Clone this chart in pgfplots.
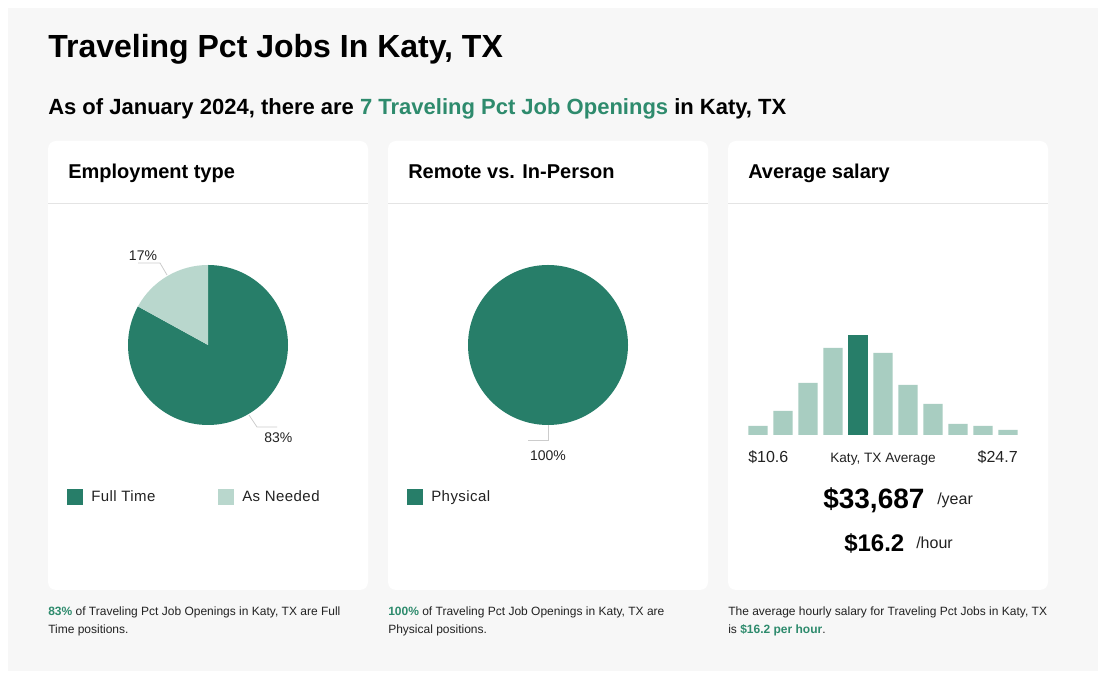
\documentclass[border=0pt]{standalone}
\usepackage{fontspec}
\setmainfont{Liberation Sans}
\usepackage{pgfplots}
\pgfplotsset{compat=1.18}
\definecolor{dkgreen}{HTML}{277E69}
\definecolor{ltpie}{HTML}{B9D7CD}
\definecolor{ltbar}{HTML}{A8CDC1}
\definecolor{txtgreen}{HTML}{2E8B6D}
\definecolor{bggray}{HTML}{F7F7F7}
\definecolor{divgray}{HTML}{E4E4E4}
\definecolor{leader}{HTML}{CCCCCC}
\definecolor{txt}{HTML}{222222}
\newcommand{\fs}[1]{\fontsize{#1}{#1}\selectfont}
\begin{document}
\begin{tikzpicture}[x=0.75pt,y=0.75pt]
\fill[white] (0,0) rectangle (1110,695);
\fill[bggray] (8,24) rectangle (1098,687);
% titles
\node[anchor=base west,inner sep=0pt] at (48,637) {\fs{24pt}\bfseries Traveling Pct Jobs In Katy, TX};
\node[anchor=base west,inner sep=0pt] at (48,580) {\fs{16.5pt}\bfseries As of January 2024, there are \textcolor{txtgreen}{7 Traveling Pct Job Openings} in Katy, TX};
% cards
\foreach \cx in {48,388,728}{
  \fill[white,rounded corners=6pt] (\cx,105) rectangle (\cx+320,554);
  \draw[divgray,line width=0.75pt] (\cx,491) -- (\cx+320,491);
}
\node[anchor=base west,inner sep=0pt] at (68,516) {\fs{15pt}\bfseries Employment type};
\node[anchor=base west,inner sep=0pt] at (408,516) {\fs{15pt}\bfseries Remote vs. In-Person};
\node[anchor=base west,inner sep=0pt] at (748,516) {\fs{15pt}\bfseries Average salary};

% ---- Pie 1: Full Time 83, As Needed 17
\def\ftval{83}
\def\anval{17}
\coordinate (p1) at (208,350);
\begin{axis}[at={(p1)},anchor=center,scale only axis,width=120pt,height=120pt,
  hide axis,clip=false,xmin=-1,xmax=1,ymin=-1,ymax=1]
  \fill[dkgreen] (axis cs:0,0) -- (axis cs:0,1) arc[start angle=90,end angle={90-3.6*\ftval},radius=60pt] -- cycle;
  \fill[ltpie] (axis cs:0,0) -- (axis cs:0,1) arc[start angle=90,end angle={90+3.6*\anval},radius=60pt] -- cycle;
\end{axis}
\draw[leader,line width=0.6pt] (138,432) -- (160,432) -- (167,420);
\draw[leader,line width=0.6pt] (249,280) -- (257,268) -- (277,268);
\node[anchor=base,inner sep=0pt,text=txt] at (143,434) {\fs{10.5pt}17\%};
\node[anchor=base west,inner sep=0pt,text=txt] at (264,252) {\fs{10.5pt}83\%};
\fill[dkgreen] (67,190) rectangle (83,206);
\node[anchor=base west,inner sep=0pt,text=txt] at (91,193) {\fs{11.25pt}\addfontfeature{LetterSpace=3}Full Time};
\fill[ltpie] (218,190) rectangle (234,206);
\node[anchor=base west,inner sep=0pt,text=txt] at (242,193) {\fs{11.25pt}\addfontfeature{LetterSpace=3}As Needed};

% ---- Pie 2: Physical 100
\def\phval{100}
\coordinate (p2) at (548,350);
\begin{axis}[at={(p2)},anchor=center,scale only axis,width=120pt,height=120pt,
  hide axis,clip=false,xmin=-1,xmax=1,ymin=-1,ymax=1]
  \fill[dkgreen] (axis cs:0,0) circle[radius={0.6pt*\phval}];
\end{axis}
\draw[leader,line width=0.6pt] (548,270) -- (548,255) -- (528,255);
\node[anchor=base,inner sep=0pt,text=txt] at (548,234) {\fs{10.5pt}100\%};
\fill[dkgreen] (407,190) rectangle (423,206);
\node[anchor=base west,inner sep=0pt,text=txt] at (431,193) {\fs{11.25pt}\addfontfeature{LetterSpace=3}Physical};

% ---- Histogram
\coordinate (h) at (745.5,260);
\begin{axis}[at={(h)},anchor=south west,scale only axis,width=206.25pt,height=75pt,
  hide axis,xmin=0.5,xmax=11.5,ymin=0,ymax=100,clip=false]
  \addplot[ybar,bar width=14.55pt,bar shift=0pt,fill=ltbar,draw=none] coordinates
   {(1,9) (2,24) (3,52) (4,87) (6,82) (7,50) (8,31) (9,11) (10,9) (11,5)};
  \addplot[ybar,bar width=14.55pt,bar shift=0pt,fill=dkgreen,draw=none] coordinates {(5,100)};
\end{axis}
\node[anchor=base west,inner sep=0pt,text=txt] at (748,232) {\fs{12pt}\$10.6};
\node[anchor=base,inner sep=0pt,text=txt] at (883,232) {\fs{10.2pt}Katy, TX Average};
\node[anchor=base east,inner sep=0pt,text=txt] at (1018,232) {\fs{12pt}\$24.7};
\node[anchor=base west,inner sep=0pt] at (823,186) {\fs{21pt}\bfseries \$33,687};
\node[anchor=base west,inner sep=0pt,text=txt] at (937,190) {\fs{12pt}/year};
\node[anchor=base west,inner sep=0pt] at (844,143) {\fs{18pt}\bfseries \$16.2};
\node[anchor=base west,inner sep=0pt,text=txt] at (916,146) {\fs{12pt}/hour};

% ---- footers
\node[anchor=base west,inner sep=0pt,text=txt] at (48,79) {\fs{9pt}\textcolor{txtgreen}{\bfseries 83\%} of Traveling Pct Job Openings in Katy, TX are Full};
\node[anchor=base west,inner sep=0pt,text=txt] at (48,61) {\fs{9pt}Time positions.};
\node[anchor=base west,inner sep=0pt,text=txt] at (388,79) {\fs{9pt}\textcolor{txtgreen}{\bfseries 100\%} of Traveling Pct Job Openings in Katy, TX are};
\node[anchor=base west,inner sep=0pt,text=txt] at (388,61) {\fs{9pt}Physical positions.};
\node[anchor=base west,inner sep=0pt,text=txt] at (728,79) {\fs{9pt}The average hourly salary for Traveling Pct Jobs in Katy, TX};
\node[anchor=base west,inner sep=0pt,text=txt] at (728,61) {\fs{9pt}is \textcolor{txtgreen}{\bfseries \$16.2 per hour}.};
\end{tikzpicture}
\end{document}
